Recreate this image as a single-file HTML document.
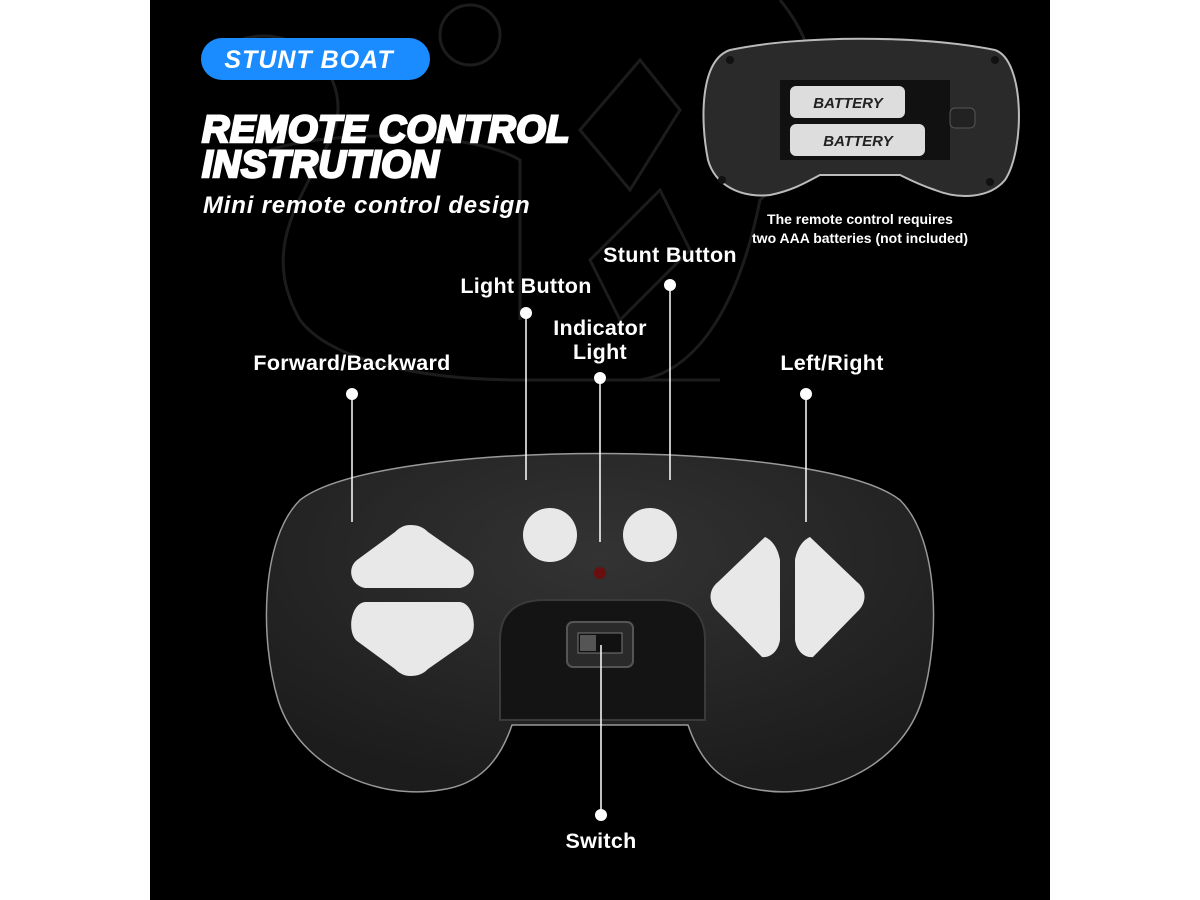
<!DOCTYPE html>
<html><head><meta charset="utf-8"><style>
body{margin:0;width:1200px;height:900px;background:#fff;overflow:hidden;font-family:"Liberation Sans",sans-serif}
svg{display:block}
</style></head><body>
<svg width="1200" height="900" viewBox="0 0 1200 900" xmlns="http://www.w3.org/2000/svg">
<defs>
<radialGradient id="g" cx="0.5" cy="0.3" r="0.7"><stop offset="0" stop-color="#333"/><stop offset="1" stop-color="#1c1c1c"/></radialGradient>
</defs>
<rect x="150" y="0" width="900" height="900" fill="#000"/>
<g fill="none" stroke="#1c1c1c" stroke-width="3">
<path d="M240 40 C300 20 360 80 330 140 C300 200 260 250 300 320 C330 360 420 380 520 380 L720 380"/>
<circle cx="470" cy="35" r="30"/>
<path d="M580 130 L640 60 L680 110 L630 190 Z"/>
<path d="M590 260 L660 190 L690 250 L620 320 Z"/>
<path d="M780 0 C830 60 830 140 760 200 C740 300 700 370 640 380"/>
<path d="M270 150 C330 130 470 130 520 160 L520 320"/>
</g>
<rect x="201" y="38" width="229" height="42" rx="21" fill="#1a8cff"/>
<text x="309" y="68" text-anchor="middle" fill="#fff" font-size="25" font-weight="bold" font-style="italic" letter-spacing="1">STUNT BOAT</text>
<g font-weight="bold" font-style="italic" font-size="38" fill="#fff" stroke="#fff" stroke-width="2.5" letter-spacing="0.5">
<text x="202" y="142">REMOTE CONTROL</text>
<text x="202" y="177">INSTRUTION</text>
</g>
<text x="203" y="213" fill="#fff" font-size="24" font-weight="bold" font-style="italic" letter-spacing="0.8">Mini remote control design</text>
<path d="M730 50 C800 35 920 35 995 50 C1025 60 1025 150 1005 180 C990 198 960 200 935 190 C920 185 910 180 900 175 L820 175 C810 180 795 190 770 195 C740 198 715 185 708 160 C700 120 700 60 730 50 Z" fill="#2a2a2a" stroke="#bbb" stroke-width="2"/>
<rect x="780" y="80" width="170" height="80" fill="#111"/>
<rect x="790" y="86" width="115" height="32" rx="6" fill="#ddd"/>
<rect x="790" y="124" width="135" height="32" rx="6" fill="#ddd"/>
<text x="848" y="108" text-anchor="middle" font-size="15" font-weight="bold" font-style="italic" fill="#222">BATTERY</text>
<text x="858" y="146" text-anchor="middle" font-size="15" font-weight="bold" font-style="italic" fill="#222">BATTERY</text>
<rect x="950" y="108" width="25" height="20" rx="5" fill="#222" stroke="#555"/>
<g fill="#111"><circle cx="730" cy="60" r="4"/><circle cx="995" cy="60" r="4"/><circle cx="722" cy="180" r="4"/><circle cx="990" cy="182" r="4"/></g>
<g fill="#fff" font-size="14" font-weight="bold" text-anchor="middle">
<text x="860" y="224">The remote control requires</text>
<text x="860" y="243">two AAA batteries (not included)</text>
</g>
<path d="M300 500 C380 438 820 438 900 500 C940 540 940 640 922 700 C900 770 820 800 760 790 C720 785 700 760 688 725 L512 725 C500 760 480 785 440 790 C380 800 300 770 278 700 C260 640 260 540 300 500 Z" fill="url(#g)" stroke="#999" stroke-width="1.5"/>
<path d="M500 720 L500 640 C500 610 520 600 545 600 L660 600 C685 600 705 610 705 640 L705 720 Z" fill="#141414" stroke="#3a3a3a" stroke-width="2"/>
<rect x="567" y="622" width="66" height="45" rx="6" fill="#2a2a2a" stroke="#555" stroke-width="2"/>
<rect x="578" y="633" width="44" height="20" fill="#111" stroke="#777"/>
<rect x="580" y="635" width="16" height="16" fill="#555"/>
<g fill="#e8e8e8">
<circle cx="550" cy="535" r="27"/>
<circle cx="650" cy="535" r="27"/>
<path d="M410 525 C405 525 400 527 395 532 L357 560 C347 568 350 585 365 588 L460 588 C475 585 478 568 468 560 L428 532 C423 527 418 525 410 525 Z"/>
<path d="M410 676 C405 676 400 674 395 669 L357 641 C347 633 350 604 365 602 L460 602 C475 604 478 633 468 641 L428 669 C423 674 418 676 410 676 Z"/>
<path d="M765 537 C772 540 778 548 780 560 L780 640 C778 652 770 658 762 657 L718 612 C708 603 708 590 718 582 Z"/>
<path d="M810 537 C803 540 797 548 795 560 L795 640 C797 652 805 658 813 657 L857 612 C867 603 867 590 857 582 Z"/>
</g>
<circle cx="600" cy="573" r="6" fill="#6a0f0f"/>
<g stroke="#fff" stroke-width="1.5">
<line x1="352" y1="394" x2="352" y2="522"/>
<line x1="526" y1="313" x2="526" y2="480"/>
<line x1="600" y1="378" x2="600" y2="542"/>
<line x1="670" y1="285" x2="670" y2="480"/>
<line x1="806" y1="394" x2="806" y2="522"/>
<line x1="601" y1="645" x2="601" y2="815"/>
</g>
<g fill="#fff">
<circle cx="352" cy="394" r="6"/><circle cx="526" cy="313" r="6"/><circle cx="600" cy="378" r="6"/>
<circle cx="670" cy="285" r="6"/><circle cx="806" cy="394" r="6"/><circle cx="601" cy="815" r="6"/>
</g>
<g fill="#fff" font-size="21.5" font-weight="bold" text-anchor="middle" letter-spacing="0.3">
<text x="352" y="370">Forward/Backward</text>
<text x="526" y="293">Light Button</text>
<text x="600" y="335">Indicator</text>
<text x="600" y="359">Light</text>
<text x="670" y="262">Stunt Button</text>
<text x="832" y="370">Left/Right</text>
<text x="601" y="848">Switch</text>
</g>
</svg>
</body></html>
